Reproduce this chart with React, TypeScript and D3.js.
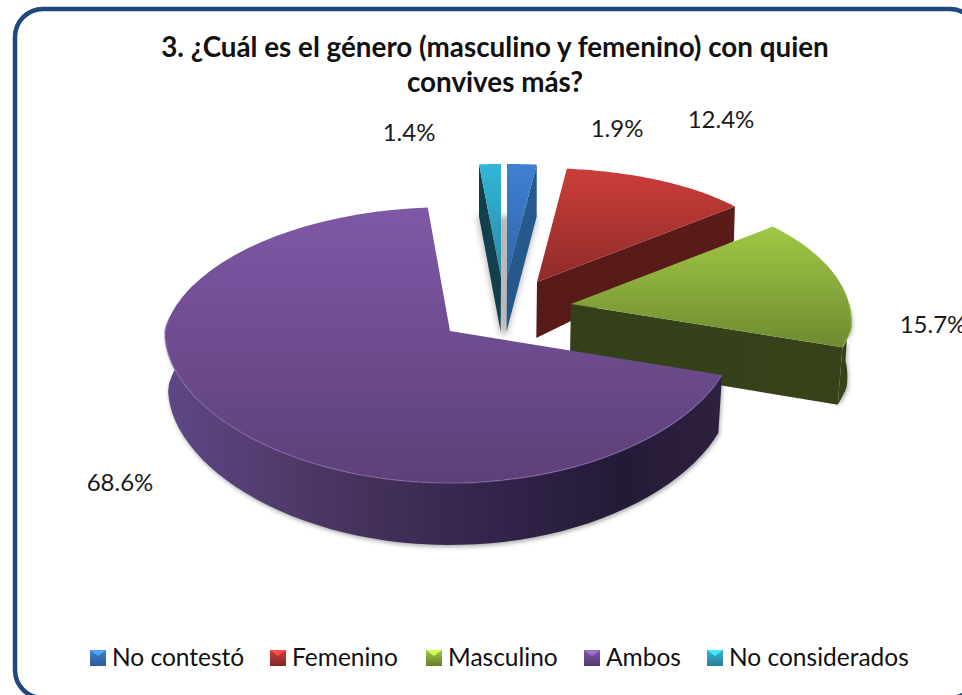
import React from "react";
import * as d3 from "d3";

const categories = ["No contestó", "Femenino", "Masculino", "Ambos", "No considerados"];
const values = [1.9, 12.4, 15.7, 68.6, 1.4];
const labels = ["1.9%", "12.4%", "15.7%", "68.6%", "1.4%"];
const titleLines = ["3. ¿Cuál es el género (masculino y femenino) con quien", "convives más?"];

// layout, per category
const apexes = [
  { x: 507, y: 277, top: 113 },
  { x: 537, y: 282, top: 114 },
  { x: 571, y: 304, top: 118 },
  { x: 450, y: 331, top: 124 },
  { x: 501, y: 277, top: 113 },
];
const topLight = ["#3f80d2", "#cb3d3a", "#9fc945", "#7f58a6", "#33b6d8"];
const topDark = ["#2f67a8", "#8f2b29", "#6f8b30", "#5c4078", "#2a8ba6"];
const wallColor = ["#265a8e", "#5a1b19", "#36421a", "#33244c", "#123f4c"];
const labelPos = [[617, 137], [721, 128], [933, 333], [120, 491], [409, 141]];
const legendMarkX = [90, 270, 426, 584, 707];
const legendTextX = [112, 292, 448, 606, 729];

const radiusAt = d3.scaleLinear().domain([164, 208, 330, 375]).range([250, 253, 285, 286]);
const depthAt = d3.scaleLinear().domain([164, 208, 282, 375, 483]).range([52, 34, 56, 58, 62]);
const arcs = d3.pie<number>().sort(null)(values);
const FRONT_RY = 152;

type P = [number, number];
const topPoint = (i: number, a: number): P => {
  const s = apexes[i];
  const c = Math.cos(a);
  const mid = (s.top + FRONT_RY) / 2;
  const half = (FRONT_RY - s.top) / 2;
  const y = s.y - mid * c + half * c * c;
  return [s.x + Math.sin(a) * radiusAt(y), y];
};
const down = (p: P): P => [450 + (p[0] - 450) * (1 - 0.00006 * Math.max(0, p[1] - 150)), p[1] + depthAt(p[1])];
const apexTop = (i: number): P => [apexes[i].x, apexes[i].y];
const path = d3.line<P>();
const sample = (i: number, a0: number, a1: number): P[] =>
  d3.range(0, 61).map((k) => topPoint(i, a0 + ((a1 - a0) * k) / 60));

function outerWall(i: number): P[] {
  const { startAngle: a0, endAngle: a1 } = arcs[i];
  const from = Math.max(a0, Math.PI / 2);
  const to = Math.min(a1, (Math.PI * 3) / 2 + 0.35);
  if (to <= from) return [];
  const outer = sample(i, from, to);
  return [...outer, ...outer.map(down).reverse()];
}

function Slice({ i }: { i: number }) {
  const { startAngle: a0, endAngle: a1 } = arcs[i];
  const arc = sample(i, a0, a1);
  const face: P[] = [apexTop(i), ...arc];
  const endTop = arc[arc.length - 1];
  const startTop = arc[0];
  const cutEnd: P[] = [apexTop(i), endTop, down(endTop), down(apexTop(i))];
  const cutStart: P[] = [apexTop(i), startTop, down(startTop), down(apexTop(i))];
  const wall = outerWall(i);
  const rimFrom = Math.max(a0, Math.PI / 2);
  const rimTo = Math.min(a1, (Math.PI * 3) / 2 + 0.1);
  return (
    <g>
      {i === 4 && <path d={path(cutStart) + "Z"} fill={wallColor[i]} />}
      {i !== 3 && i !== 4 && <path d={path(cutEnd) + "Z"} fill={`url(#cut${i})`} />}
      {wall.length > 0 && <path d={path(wall) + "Z"} fill={`url(#wall${i})`} />}
      <path d={path(face) + "Z"} fill={`url(#top${i})`} />
      {i === 3 && <path d={path(sample(i, rimFrom, rimTo))!} fill="none" stroke="#8a68ae" strokeOpacity={0.55} strokeWidth={1.5} />}
      {i === 2 && <path d={path(sample(i, rimFrom, a1))!} fill="none" stroke="#a8cc58" strokeOpacity={0.6} strokeWidth={1.2} />}
    </g>
  );
}

export default function App() {
  const order = [1, 0, 4, 2, 3];
  const font = "Lato, 'Open Sans', sans-serif";
  return (
    <svg width={962} height={695} viewBox="0 0 962 695" style={{ position: "absolute", left: 0, top: 0, background: "#fff" }}>
      <defs>
        {categories.map((_, i) => (
          <g key={i}>
            <linearGradient id={`top${i}`} gradientUnits="objectBoundingBox" x1="0" y1="0" x2="0" y2="1">
              <stop offset="0" stopColor={topLight[i]} />
              <stop offset="1" stopColor={topDark[i]} />
            </linearGradient>
            <linearGradient id={`cut${i}`} x1="0" y1="0" x2="1" y2="0">
              <stop offset="0" stopColor={d3.color(wallColor[i])!.darker(0.1).toString()} />
              <stop offset="1" stopColor={wallColor[i]} />
            </linearGradient>
            {i !== 3 && (
              <linearGradient id={`wall${i}`} x1="0" y1="0" x2="1" y2="0">
                <stop offset="0" stopColor={wallColor[i]} />
                <stop offset="1" stopColor={wallColor[i]} />
              </linearGradient>
            )}
            <linearGradient id={`leg${i}`} x1="0" y1="0" x2="0" y2="1">
              <stop offset="0" stopColor={topLight[i]} />
              <stop offset="1" stopColor={d3.color(topDark[i])!.darker(0.3).toString()} />
            </linearGradient>
          </g>
        ))}
        <linearGradient id="wall3" gradientUnits="userSpaceOnUse" x1="166" y1="0" x2="724" y2="0">
          <stop offset="0" stopColor="#5f4786" />
          <stop offset="0.3" stopColor="#49355f" />
          <stop offset="0.55" stopColor="#35264e" />
          <stop offset="0.82" stopColor="#241a37" />
          <stop offset="1" stopColor="#2f2140" />
        </linearGradient>
        <filter id="soft" x="-40%" y="-40%" width="180%" height="180%">
          <feGaussianBlur stdDeviation="3" />
        </filter>
        <filter id="soft2" x="-10%" y="-10%" width="120%" height="120%">
          <feGaussianBlur stdDeviation="2" />
        </filter>
      </defs>

      <rect x={15} y={9} width={963} height={689} rx={28} ry={28} fill="#fff" stroke="#1f497d" strokeWidth={4.5} />

      <g fontFamily={font} fontWeight={700} fontSize={27.8} fill="#111" textAnchor="middle">
        <text x={495} y={57}>{titleLines[0]}</text>
        <text x={495} y={92}>{titleLines[1]}</text>
      </g>

      {/* soft shadow beneath the two narrow slices and the large ones */}
      <g filter="url(#soft)" opacity={0.45}>
        <path d={path([[477, 216], [538, 216], [507, 334], [500, 334]])! + "Z"} fill="#666" />
      </g>
      <g filter="url(#soft2)" opacity={0.5} transform="translate(1,2)">
        <path d={path(outerWall(3))! + "Z"} fill="#555" />
        <path d={path(outerWall(2))! + "Z"} fill="#555" />
      </g>

      {order.map((i) => (
        <Slice key={i} i={i} />
      ))}

      <g fontFamily={font} fontSize={24} fill="#1a1a1a" textAnchor="middle">
        {labels.map((l, i) => (
          <text key={i} x={labelPos[i][0]} y={labelPos[i][1]}>{l}</text>
        ))}
      </g>

      <g fontFamily={font} fontSize={24.5} fill="#111">
        {categories.map((c, i) => {
          const x = legendMarkX[i];
          return (
            <g key={c}>
              <rect x={x} y={650} width={16} height={16} fill={`url(#leg${i})`} />
              <path d={`M${x},650 L${x + 16},650 L${x + 8},656 Z`} fill={d3.color(topLight[i])!.brighter(0.7).toString()} />
              <text x={legendTextX[i]} y={666}>{c}</text>
            </g>
          );
        })}
      </g>
    </svg>
  );
}
